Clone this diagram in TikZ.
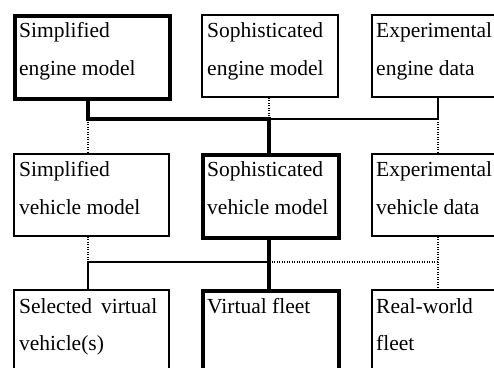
\documentclass[tikz,border=0pt]{standalone}
\usepackage{fontspec}
\setmainfont{Liberation Serif}
\begin{document}
\begin{tikzpicture}[x=1pt,y=-1pt,
  box/.style={draw, line width=1.5pt, inner sep=0pt, anchor=north west},
  boldbox/.style={box, line width=3.5pt},
  txt/.style={anchor=base west, inner sep=0pt, font=\fontsize{21.5}{26}\selectfont},
  link/.style={line width=1.4pt},
  boldlink/.style={line width=3.5pt},
  dotlink/.style={line width=1.2pt, dash pattern=on 1.1pt off 1.4pt}]
\useasboundingbox (0,0) rectangle (494,367);
\clip (0,0) rectangle (494,367);
% row 1
\node[boldbox, minimum width=155pt, minimum height=83pt] (se) at (13,14) {};
\node[box, minimum width=136pt, minimum height=82pt] (so) at (201,14) {};
\node[box, minimum width=190pt, minimum height=82pt] (ee) at (371,14) {};
% row 2
\node[box, minimum width=155pt, minimum height=82pt] (sv) at (13,153) {};
\node[boldbox, minimum width=136pt, minimum height=83pt] (sov) at (201,153) {};
\node[box, minimum width=190pt, minimum height=82pt] (ev) at (371,153) {};
% row 3
\node[box, minimum width=155pt, minimum height=140pt] (vv) at (13,289) {};
\node[boldbox, minimum width=136pt, minimum height=140pt] (vf) at (201,289) {};
\node[box, minimum width=190pt, minimum height=140pt] (rw) at (371,289) {};
% texts
\node[txt] (t1a) at (19,37) {Simplified};
\node[txt] (t1b) at (19,75) {engine model};
\node[txt] (t2a) at (207,37) {Sophisticated};
\node[txt] (t2b) at (207,75) {engine model};
\node[txt] (t3a) at (376,37) {Experimental};
\node[txt] (t3b) at (376,75) {engine data};
\node[txt] (t4a) at (19,176) {Simplified};
\node[txt] (t4b) at (19,214) {vehicle model};
\node[txt] (t5a) at (207,176) {Sophisticated};
\node[txt] (t5b) at (207,214) {vehicle model};
\node[txt] (t6a) at (376,176) {Experimental};
\node[txt] (t6b) at (376,214) {vehicle data};
\node[txt] (t7a) at (19,313) {\makebox[138pt][s]{Selected\hfill virtual}};
\node[txt] (t7b) at (19,350) {vehicle(s)};
\node[txt] (t8a) at (207,313) {Virtual fleet};
\node[txt] (t9a) at (376,313) {Real-world};
\node[txt] (t9b) at (376,350) {fleet};
% junctions
\coordinate (ja) at (88,119);
\coordinate (jb) at (269,119);
\coordinate (jc) at (438,119);
\coordinate (jd) at (88,262);
\coordinate (je) at (269,262);
\coordinate (jf) at (438,262);
% upper connectors
\draw[boldlink] (ja |- se.south) -- (ja) -- (jb) -- (jb |- sov.north);
\draw[link] (jb) -- (jc) -- (jc |- ee.south);
\draw[dotlink] (jb |- so.south) -- (jb);
\draw[dotlink] (ja) -- (ja |- sv.north);
\draw[dotlink] (jc) -- (jc |- ev.north);
% lower connectors
\draw[dotlink] (jd |- sv.south) -- (jd);
\draw[link] (je) -- (jd) -- (jd |- vv.north);
\draw[boldlink] (je |- sov.south) -- (je |- vf.north);
\draw[dotlink] (je) -- (jf);
\draw[dotlink] (jf |- ev.south) -- (jf |- rw.north);
\end{tikzpicture}
\end{document}
